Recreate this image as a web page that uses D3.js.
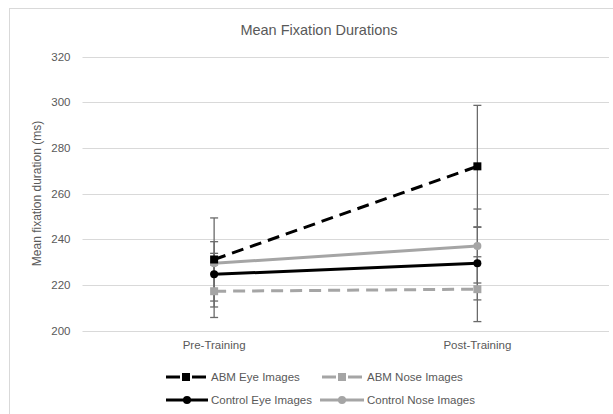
<!DOCTYPE html>
<html>
<head>
<meta charset="utf-8">
<script src="https://cdn.jsdelivr.net/npm/d3@7"></script>
<style>
  body { margin: 0; background: #fff; }
  svg { display: block; }
  text { font-family: "Liberation Sans", Arial, sans-serif; fill: #595959; }
</style>
</head>
<body>
<svg id="chart" width="613" height="414"></svg>
<script>
// ---- data ----
const categories = ["Pre-Training", "Post-Training"];
const seriesNames = ["ABM Eye Images", "ABM Nose Images", "Control Eye Images", "Control Nose Images"];
const abmEye = [231.1, 271.9];
const abmEyeErr = [18.2, 26.7];
const abmNose = [217.2, 218.1];
const abmNoseErr = [11.5, 14.2];
const controlEye = [224.6, 229.4];
const controlEyeErr = [14.3, 16.0];
const controlNose = [229.4, 237.0];
const controlNoseErr = [4.4, 16.2];
const yTicks = [200, 220, 240, 260, 280, 300, 320];
const chartTitle = "Mean Fixation Durations";
const yTitle = "Mean fixation duration (ms)";

const series = [
  { name: seriesNames[0], values: abmEye, errs: abmEyeErr, color: "#000000", dash: "12,7", marker: "square" },
  { name: seriesNames[1], values: abmNose, errs: abmNoseErr, color: "#A5A5A5", dash: "12,7", marker: "square" },
  { name: seriesNames[2], values: controlEye, errs: controlEyeErr, color: "#000000", dash: null, marker: "circle" },
  { name: seriesNames[3], values: controlNose, errs: controlNoseErr, color: "#A5A5A5", dash: null, marker: "circle" }
];

const svg = d3.select("#chart");
const plot = { left: 82.5, right: 609, top: 56.5, bottom: 330.5 };

// chart border (extends beyond the crop on right/bottom)
svg.append("rect").attr("x", 9.5).attr("y", 8.5).attr("width", 640).attr("height", 440)
  .attr("fill", "none").attr("stroke", "#d9d9d9").attr("stroke-width", 1);

const x = d3.scaleBand().domain(categories).range([plot.left, plot.right]);
const y = d3.scaleLinear().domain([200, 320]).range([plot.bottom, plot.top]);

// gridlines
svg.append("g").selectAll("line").data(yTicks).join("line")
  .attr("x1", plot.left).attr("x2", plot.right)
  .attr("y1", d => Math.round(y(d)) + 0.5).attr("y2", d => Math.round(y(d)) + 0.5)
  .attr("stroke", "#d9d9d9").attr("stroke-width", 1);

// y axis labels
const yAxis = d3.axisLeft(y).tickValues(yTicks).tickSize(0).tickPadding(12);
const gy = svg.append("g").attr("transform", `translate(${plot.left},0)`).call(yAxis);
gy.select(".domain").remove();
gy.selectAll("text").style("font-size", "11.5px").style("fill", "#595959")
  .style("font-family", "Liberation Sans, Arial, sans-serif");

// x axis labels
const xAxis = d3.axisBottom(x).tickSize(0).tickPadding(10);
const gx = svg.append("g").attr("transform", `translate(0,${plot.bottom})`).call(xAxis);
gx.select(".domain").remove();
gx.selectAll("text").style("font-size", "11.5px").style("fill", "#595959")
  .style("font-family", "Liberation Sans, Arial, sans-serif");

// title
svg.append("text").attr("x", 319).attr("y", 35).attr("text-anchor", "middle")
  .style("font-size", "14.5px").text(chartTitle);

// y title
svg.append("text").attr("transform", `translate(41,${(plot.top + plot.bottom) / 2}) rotate(-90)`)
  .attr("text-anchor", "middle").style("font-size", "12px").text(yTitle);

const cx = c => x(c) + x.bandwidth() / 2;

// error bars
const eg = svg.append("g");
series.forEach(s => {
  categories.forEach((c, i) => {
    const xc = cx(c);
    const hi = y(s.values[i] + s.errs[i]), lo = y(s.values[i] - s.errs[i]);
    eg.append("line").attr("x1", xc).attr("x2", xc).attr("y1", hi).attr("y2", lo)
      .attr("stroke", "#6a6a6a").attr("stroke-width", 1.3);
    [hi, lo].forEach(yy => eg.append("line").attr("x1", xc - 4).attr("x2", xc + 4)
      .attr("y1", yy).attr("y2", yy).attr("stroke", "#6a6a6a").attr("stroke-width", 1.3));
  });
});

// lines and markers
const line = d3.line().x((d, i) => cx(categories[i])).y(d => y(d));
const drawOrder = [3, 2, 1, 0];
drawOrder.forEach(k => {
  const s = series[k];
  const g = svg.append("g");
  g.append("path").datum(s.values).attr("d", line).attr("fill", "none")
    .attr("stroke", s.color).attr("stroke-width", 3)
    .attr("stroke-dasharray", s.dash);
  s.values.forEach((v, i) => {
    const px = cx(categories[i]), py = y(v);
    if (s.marker === "square") {
      g.append("rect").attr("x", px - 4).attr("y", py - 4).attr("width", 8).attr("height", 8)
        .attr("fill", s.color);
    } else {
      g.append("circle").attr("cx", px).attr("cy", py).attr("r", 4).attr("fill", s.color);
    }
  });
});

// legend
const legendPos = [
  { x0: 166, x1: 206, tx: 211, y: 377 },
  { x0: 322, x1: 362, tx: 367, y: 377 },
  { x0: 166, x1: 208, tx: 211, y: 400 },
  { x0: 320, x1: 364, tx: 367, y: 400 }
];
const lg = svg.append("g");
series.forEach((s, k) => {
  const p = legendPos[k];
  const mx = (p.x0 + p.x1) / 2;
  if (s.dash) {
    lg.append("line").attr("x1", p.x0).attr("x2", mx - 6).attr("y1", p.y).attr("y2", p.y)
      .attr("stroke", s.color).attr("stroke-width", 3);
    lg.append("line").attr("x1", mx + 6).attr("x2", p.x1).attr("y1", p.y).attr("y2", p.y)
      .attr("stroke", s.color).attr("stroke-width", 3);
  } else {
    lg.append("line").attr("x1", p.x0).attr("x2", p.x1).attr("y1", p.y).attr("y2", p.y)
      .attr("stroke", s.color).attr("stroke-width", 3);
  }
  if (s.marker === "square") {
    lg.append("rect").attr("x", mx - 4).attr("y", p.y - 4).attr("width", 8).attr("height", 8).attr("fill", s.color);
  } else {
    lg.append("circle").attr("cx", mx).attr("cy", p.y).attr("r", 4).attr("fill", s.color);
  }
  lg.append("text").attr("x", p.tx).attr("y", p.y).attr("dy", "0.35em")
    .style("font-size", "11.5px").text(s.name);
});
</script>
</body>
</html>
